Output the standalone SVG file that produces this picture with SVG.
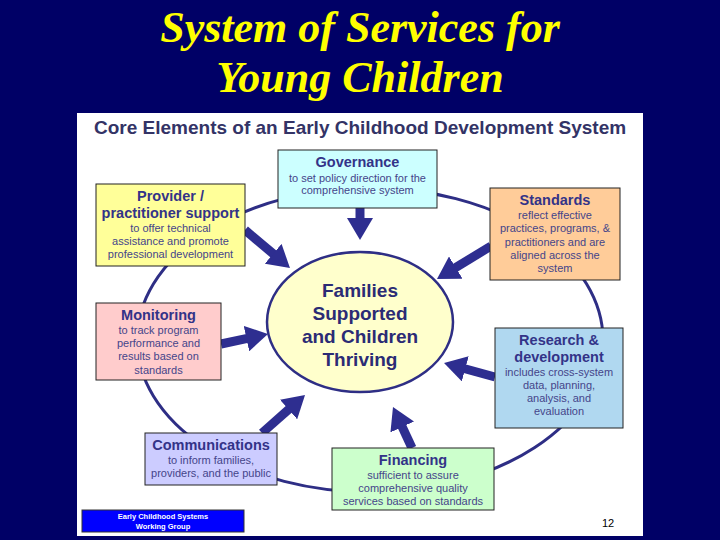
<svg xmlns="http://www.w3.org/2000/svg" width="720" height="540" viewBox="0 0 720 540">
<defs>
<marker id="ah" markerUnits="userSpaceOnUse" markerWidth="22" markerHeight="26" refX="7" refY="13" orient="auto">
<path d="M0,0 L22,13 L0,26 z" fill="#2e2e90"/>
</marker>
</defs>
<style>
.title{font-family:"Liberation Serif",serif;font-weight:bold;font-style:italic;font-size:44px;fill:#ffff00;text-anchor:middle}
.sub{font-family:"Liberation Sans",Arial,sans-serif;font-weight:bold;font-size:19px;fill:#333366}
.box{stroke:#222;stroke-width:1}
.h{font-family:"Liberation Sans",Arial,sans-serif;font-weight:bold;font-size:14.5px;fill:#333388;text-anchor:middle}
.t{font-family:"Liberation Sans",Arial,sans-serif;font-size:11px;fill:#45458a;text-anchor:middle}
.c{font-family:"Liberation Sans",Arial,sans-serif;font-weight:bold;font-size:19px;fill:#2b2b75;text-anchor:middle}
.arr{stroke:#2e2e90;stroke-width:9;fill:none;marker-end:url(#ah)}
</style>
<rect width="720" height="540" fill="#000066"/>
<text class="title" x="360" y="42">System of Services for</text>
<text class="title" x="360" y="92">Young Children</text>
<rect x="77" y="113" width="566" height="423" fill="#ffffff"/>
<text class="sub" x="94" y="134">Core Elements of an Early Childhood Development System</text>

<g id="ring">
<ellipse cx="370" cy="340" rx="233" ry="152" fill="none" stroke="#2e2e85" stroke-width="3"/>
</g>

<g id="connectors">
<line class="arr" x1="360" y1="207" x2="360" y2="225"/>
<line class="arr" x1="245" y1="230" x2="278.5" y2="258.3"/>
<line class="arr" x1="491" y1="246" x2="449.8" y2="271.2"/>
<line class="arr" x1="221" y1="344" x2="253.3" y2="337.1"/>
<line class="arr" x1="495" y1="377" x2="458.5" y2="367"/>
<line class="arr" x1="262" y1="433" x2="293.8" y2="404.9"/>
<line class="arr" x1="412" y1="448" x2="399.3" y2="420.6"/>
</g>

<g id="center">
<ellipse cx="360" cy="322" rx="93" ry="70" fill="#ffffcc" stroke="#2e2e85" stroke-width="2.5"/>
<text class="c" x="360" y="297">Families</text>
<text class="c" x="360" y="320">Supported</text>
<text class="c" x="360" y="343">and Children</text>
<text class="c" x="360" y="366">Thriving</text>
</g>

<g id="governance">
<rect class="box" x="278" y="150" width="159" height="58" fill="#ccffff"/>
<text class="h" x="357.5" y="167">Governance</text>
<text class="t" x="357.5" y="182">to set policy direction for the</text>
<text class="t" x="357.5" y="194">comprehensive system</text>
</g>

<g id="provider">
<rect class="box" x="96" y="184" width="149" height="82" fill="#ffff99"/>
<text class="h" x="170.5" y="201">Provider /</text>
<text class="h" x="170.5" y="218">practitioner support</text>
<text class="t" x="170.5" y="232">to offer technical</text>
<text class="t" x="170.5" y="245">assistance and promote</text>
<text class="t" x="170.5" y="258">professional development</text>
</g>

<g id="standards">
<rect class="box" x="490" y="188" width="130" height="92" fill="#ffcc99"/>
<text class="h" x="555" y="205">Standards</text>
<text class="t" x="555" y="219">reflect effective</text>
<text class="t" x="555" y="232">practices, programs, &amp;</text>
<text class="t" x="555" y="246">practitioners and are</text>
<text class="t" x="555" y="259">aligned across the</text>
<text class="t" x="555" y="272">system</text>
</g>

<g id="monitoring">
<rect class="box" x="96" y="303" width="125" height="77" fill="#ffcccc"/>
<text class="h" x="158.5" y="320">Monitoring</text>
<text class="t" x="158.5" y="334">to track program</text>
<text class="t" x="158.5" y="347">performance and</text>
<text class="t" x="158.5" y="360">results based on</text>
<text class="t" x="158.5" y="374">standards</text>
</g>

<g id="research">
<rect class="box" x="495" y="328" width="128" height="100" fill="#b0d8f0"/>
<text class="h" x="559" y="345">Research &amp;</text>
<text class="h" x="559" y="362">development</text>
<text class="t" x="559" y="376">includes cross-system</text>
<text class="t" x="559" y="389">data, planning,</text>
<text class="t" x="559" y="402">analysis, and</text>
<text class="t" x="559" y="415">evaluation</text>
</g>

<g id="communications">
<rect class="box" x="145" y="433" width="132" height="52" fill="#ccccff"/>
<text class="h" x="211" y="450">Communications</text>
<text class="t" x="211" y="464">to inform families,</text>
<text class="t" x="211" y="477">providers, and the public</text>
</g>

<g id="financing">
<rect class="box" x="332" y="448" width="162" height="62" fill="#ccffcc"/>
<text class="h" x="413" y="465">Financing</text>
<text class="t" x="413" y="479">sufficient to assure</text>
<text class="t" x="413" y="492">comprehensive quality</text>
<text class="t" x="413" y="505">services based on standards</text>
</g>

<g id="footer">
<rect x="82" y="510" width="162" height="22" fill="#0000ff" stroke="#333" stroke-width="1"/>
<text x="163" y="519" font-family="Liberation Sans, Arial, sans-serif" font-size="7.5" font-weight="bold" fill="#ffffff" text-anchor="middle">Early Childhood Systems</text>
<text x="163" y="529" font-family="Liberation Sans, Arial, sans-serif" font-size="7.5" font-weight="bold" fill="#ffffff" text-anchor="middle">Working Group</text>
<text x="608" y="527" font-family="Liberation Sans, Arial, sans-serif" font-size="11" fill="#000000" text-anchor="middle">12</text>
</g>
</svg>
